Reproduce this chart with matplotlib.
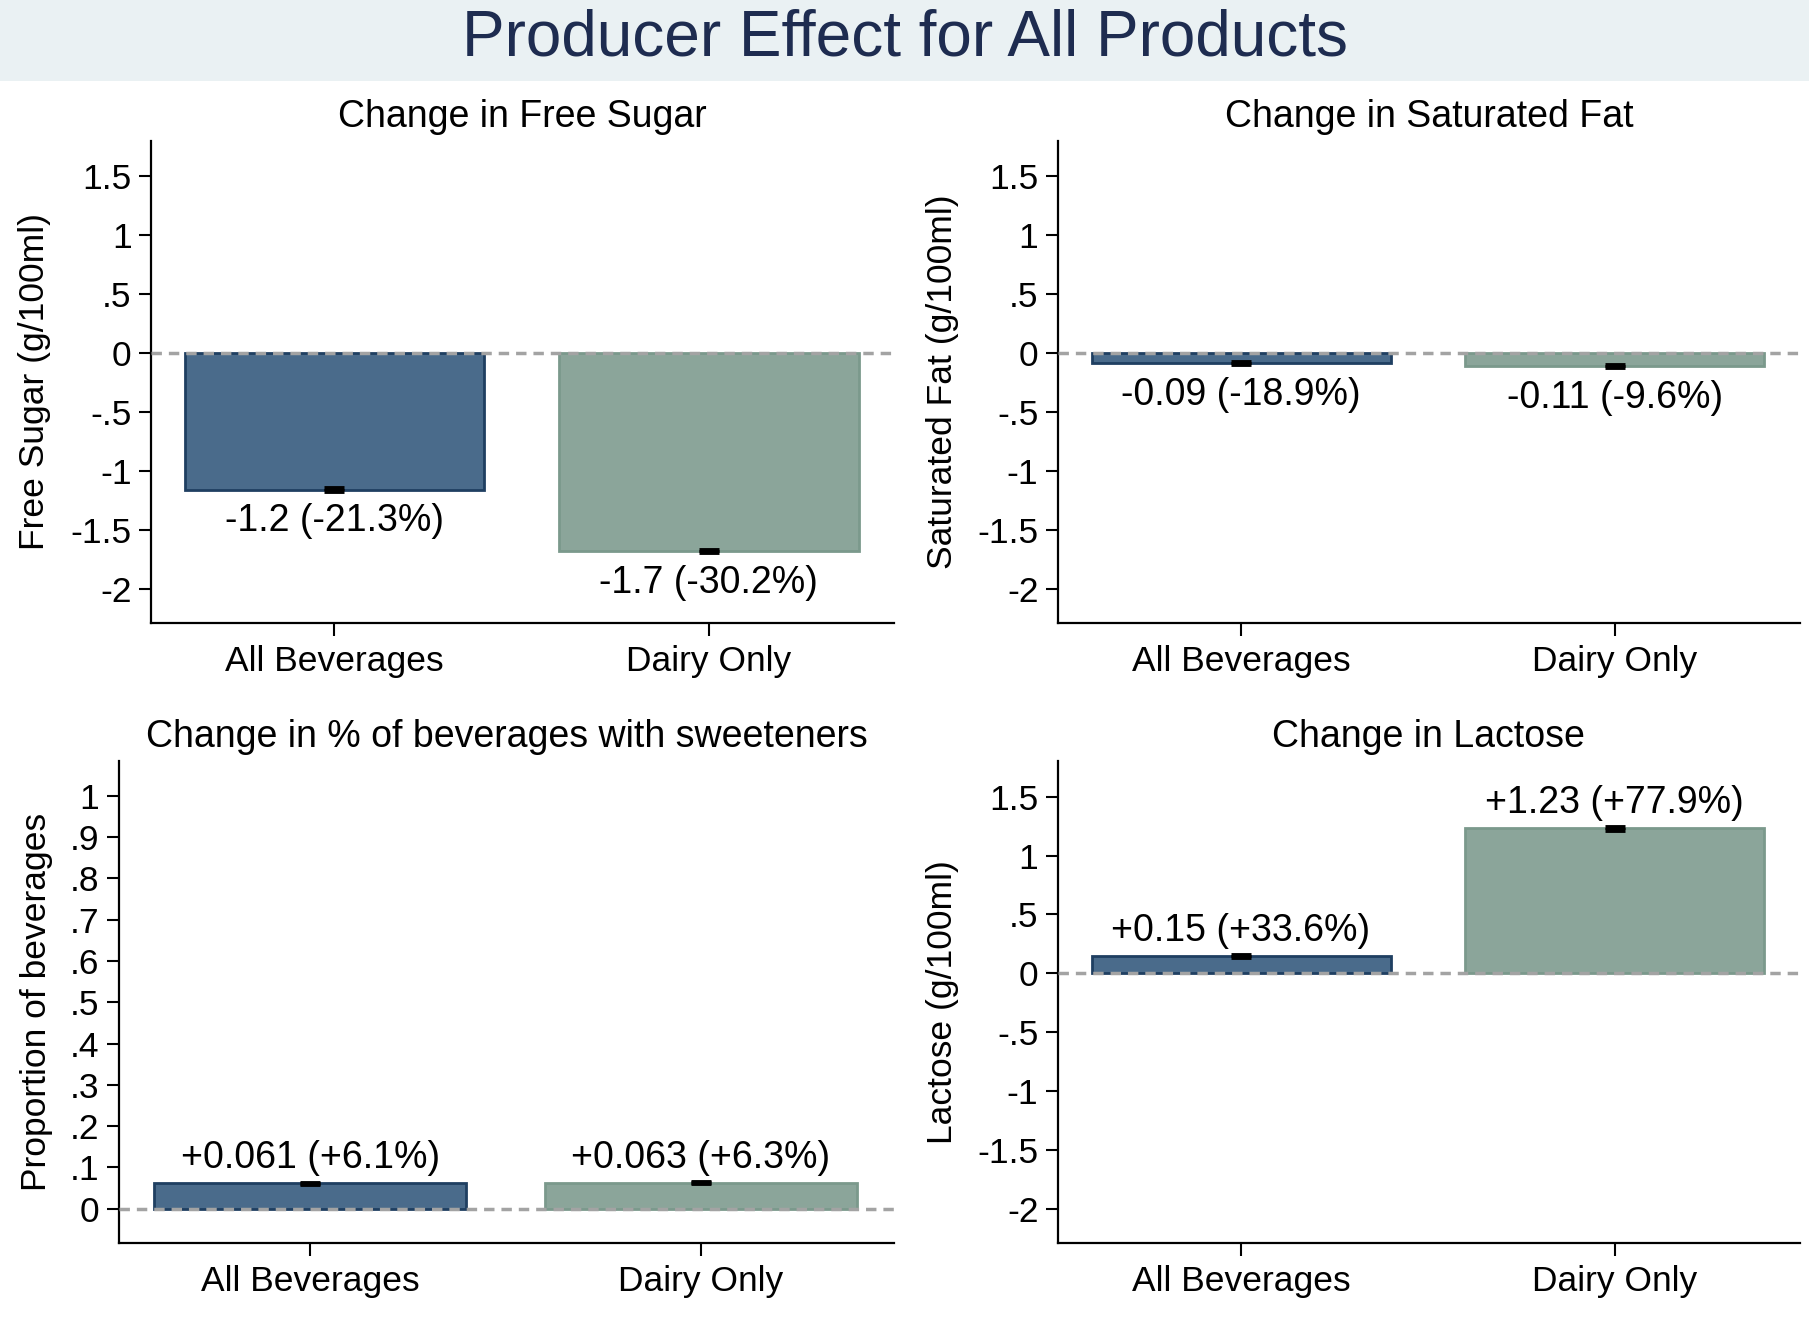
import matplotlib
matplotlib.use('Agg')
import matplotlib.pyplot as plt
from matplotlib.patches import Rectangle
from matplotlib.ticker import FuncFormatter

plt.rcParams['font.family'] = ['Liberation Sans', 'DejaVu Sans']

# data
groups = ['All Beverages', 'Dairy Only']

sugar_change = [-1.16, -1.68]
sugar_ci = [0.01, 0.01]
sugar_labels = ['-1.2 (-21.3%)', '-1.7 (-30.2%)']

fat_change = [-0.085, -0.11]
fat_ci = [0.008, 0.008]
fat_labels = ['-0.09 (-18.9%)', '-0.11 (-9.6%)']

sweet_change = [0.061, 0.063]
sweet_ci = [0.002, 0.002]
sweet_labels = ['+0.061 (+6.1%)', '+0.063 (+6.3%)']

lactose_change = [0.15, 1.23]
lactose_ci = [0.01, 0.01]
lactose_labels = ['+0.15 (+33.6%)', '+1.23 (+77.9%)']

g_ticks = [-2, -1.5, -1, -0.5, 0, 0.5, 1, 1.5]
prop_ticks = [0, 0.1, 0.2, 0.3, 0.4, 0.5, 0.6, 0.7, 0.8, 0.9, 1]

bar_colors = ['#4a6b8b', '#8ba59a']
edge_colors = ['#1f3f61', '#7b998c']


def stata_fmt(v, pos=None):
    s = f"{v:g}"
    if s.startswith('0.'):
        s = s[1:]
    elif s.startswith('-0.'):
        s = '-' + s[2:]
    return s


fig = plt.figure(figsize=(18.09, 13.17), dpi=100)
fig.patches.append(Rectangle((0, 1 - 81 / 1317), 1, 81 / 1317, transform=fig.transFigure,
                             facecolor='#eaf1f3', edgecolor='none', zorder=0))
fig.text(0.5, 1 - 38 / 1317, 'Producer Effect for All Products', ha='center', va='center',
         fontsize=46, color='#1e2c50')

panels = [
    # rect, title, ylabel, values, ci, labels, ticks, ylim, ylabel x
    ([0.0835, 0.5271, 0.4108, 0.3661], 'Change in Free Sugar', 'Free Sugar (g/100ml)',
     sugar_change, sugar_ci, sugar_labels, g_ticks, (-2.29, 1.8), -0.135),
    ([0.5848, 0.5271, 0.4101, 0.3661], 'Change in Saturated Fat', 'Saturated Fat (g/100ml)',
     fat_change, fat_ci, fat_labels, g_ticks, (-2.29, 1.8), -0.133),
    ([0.0657, 0.0560, 0.4286, 0.3660], 'Change in % of beverages with sweeteners', 'Proportion of beverages',
     sweet_change, sweet_ci, sweet_labels, prop_ticks, (-0.084, 1.084), -0.085),
    ([0.5848, 0.0560, 0.4101, 0.3660], 'Change in Lactose', 'Lactose (g/100ml)',
     lactose_change, lactose_ci, lactose_labels, g_ticks, (-2.29, 1.8), -0.133),
]

x = [0, 1]
for rect, title, ylabel, vals, ci, labels, ticks, ylim, ylx in panels:
    ax = fig.add_axes(rect)
    ax.bar(x, vals, width=0.8, color=bar_colors, edgecolor=edge_colors, linewidth=2, zorder=2)
    ax.errorbar(x, vals, yerr=ci, fmt='none', ecolor='black', elinewidth=2,
                capsize=7, capthick=3.5, zorder=4)
    ax.axhline(0, color='#a3a3a3', linestyle=(0, (3, 2)), linewidth=2.5, zorder=3)
    for xi, v, lab in zip(x, vals, labels):
        if v < 0:
            ax.annotate(lab, (xi, v), xytext=(0, -10), textcoords='offset points',
                        ha='center', va='top', fontsize=27)
        else:
            ax.annotate(lab, (xi, v), xytext=(0, 5), textcoords='offset points',
                        ha='center', va='bottom', fontsize=27)
    ax.set_xlim(-0.49, 1.495)
    ax.set_ylim(*ylim)
    ax.set_yticks(ticks)
    ax.yaxis.set_major_formatter(FuncFormatter(stata_fmt))
    ax.set_xticks(x)
    ax.set_xticklabels(groups)
    ax.tick_params(axis='both', labelsize=25.5, length=9, width=1.5, direction='out')
    ax.tick_params(axis='x', pad=7)
    ax.tick_params(axis='y', pad=5)
    ax.spines['top'].set_visible(False)
    ax.spines['right'].set_visible(False)
    ax.spines['left'].set_linewidth(1.6)
    ax.spines['bottom'].set_linewidth(1.6)
    ax.set_title(title, fontsize=27, pad=10)
    ax.set_ylabel(ylabel, fontsize=25.5)
    ax.yaxis.set_label_coords(ylx, 0.5)

plt.savefig('out.png', dpi=100)
